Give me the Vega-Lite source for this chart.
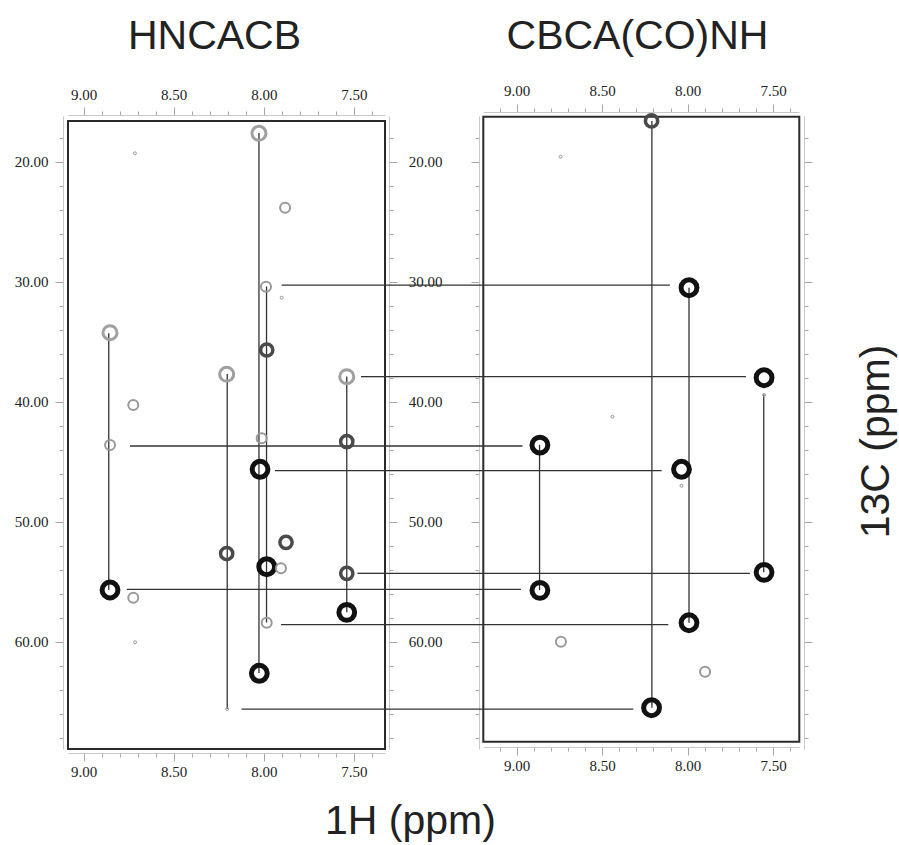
{
  "$schema": "https://vega.github.io/schema/vega-lite/v6.json",
  "width": 732,
  "height": 633,
  "autosize": {"type": "none"},
  "padding": {"left": 68, "top": 116, "right": 99, "bottom": 96},
  "background": "white",
  "config": {
    "view": {"stroke": null},
    "axis": {
      "grid": false,
      "labelFont": "Liberation Serif",
      "labelFontSize": 15,
      "labelColor": "#222222",
      "labelOverlap": false,
      "labelFlush": false,
      "domainColor": "#c8c8c8",
      "domainWidth": 1,
      "tickColor": "#a8a8a8",
      "tickWidth": 1,
      "titleFont": "Liberation Sans",
      "titleFontSize": 41,
      "titleFontWeight": "normal",
      "titleColor": "#222222"
    }
  },
  "datasets": {
    "windows": [
      {"panel": "HNCACB", "h_max": 9.086, "h_min": 7.328, "c_min": 16.61, "c_max": 68.94},
      {"panel": "CBCA(CO)NH", "h_max": 9.195, "h_min": 7.347, "c_min": 16.25, "c_max": 68.33}
    ],
    "peaks": [
      {"panel": "HNCACB", "h": 8.027, "c": 17.63, "intensity": "light"},
      {"panel": "HNCACB", "h": 8.715, "c": 19.30, "intensity": "trace"},
      {"panel": "HNCACB", "h": 7.882, "c": 23.83, "intensity": "weak"},
      {"panel": "HNCACB", "h": 7.988, "c": 30.42, "intensity": "weak"},
      {"panel": "HNCACB", "h": 7.901, "c": 31.33, "intensity": "trace"},
      {"panel": "HNCACB", "h": 8.853, "c": 34.25, "intensity": "light"},
      {"panel": "HNCACB", "h": 7.984, "c": 35.69, "intensity": "medium"},
      {"panel": "HNCACB", "h": 8.206, "c": 37.72, "intensity": "light"},
      {"panel": "HNCACB", "h": 7.540, "c": 37.91, "intensity": "light"},
      {"panel": "HNCACB", "h": 8.724, "c": 40.28, "intensity": "weak"},
      {"panel": "HNCACB", "h": 8.012, "c": 43.05, "intensity": "weak"},
      {"panel": "HNCACB", "h": 8.853, "c": 43.61, "intensity": "weak"},
      {"panel": "HNCACB", "h": 7.540, "c": 43.33, "intensity": "medium"},
      {"panel": "HNCACB", "h": 8.021, "c": 45.63, "intensity": "strong"},
      {"panel": "HNCACB", "h": 7.877, "c": 51.72, "intensity": "medium"},
      {"panel": "HNCACB", "h": 8.206, "c": 52.65, "intensity": "medium"},
      {"panel": "HNCACB", "h": 7.984, "c": 53.75, "intensity": "strong"},
      {"panel": "HNCACB", "h": 7.905, "c": 53.88, "intensity": "weak"},
      {"panel": "HNCACB", "h": 7.540, "c": 54.30, "intensity": "medium"},
      {"panel": "HNCACB", "h": 8.853, "c": 55.69, "intensity": "strong"},
      {"panel": "HNCACB", "h": 8.724, "c": 56.33, "intensity": "weak"},
      {"panel": "HNCACB", "h": 7.540, "c": 57.55, "intensity": "strong"},
      {"panel": "HNCACB", "h": 7.984, "c": 58.42, "intensity": "weak"},
      {"panel": "HNCACB", "h": 8.714, "c": 60.05, "intensity": "trace"},
      {"panel": "HNCACB", "h": 8.025, "c": 62.63, "intensity": "strong"},
      {"panel": "HNCACB", "h": 8.203, "c": 65.61, "intensity": "trace"},
      {"panel": "CBCA(CO)NH", "h": 8.211, "c": 16.60, "intensity": "medium"},
      {"panel": "CBCA(CO)NH", "h": 8.743, "c": 19.58, "intensity": "trace"},
      {"panel": "CBCA(CO)NH", "h": 7.992, "c": 30.50, "intensity": "strong"},
      {"panel": "CBCA(CO)NH", "h": 7.553, "c": 38.00, "intensity": "strong"},
      {"panel": "CBCA(CO)NH", "h": 7.553, "c": 39.44, "intensity": "trace"},
      {"panel": "CBCA(CO)NH", "h": 8.440, "c": 41.25, "intensity": "trace"},
      {"panel": "CBCA(CO)NH", "h": 8.864, "c": 43.61, "intensity": "strong"},
      {"panel": "CBCA(CO)NH", "h": 8.036, "c": 45.63, "intensity": "strong"},
      {"panel": "CBCA(CO)NH", "h": 8.036, "c": 47.00, "intensity": "trace"},
      {"panel": "CBCA(CO)NH", "h": 8.864, "c": 55.72, "intensity": "strong"},
      {"panel": "CBCA(CO)NH", "h": 7.553, "c": 54.22, "intensity": "strong"},
      {"panel": "CBCA(CO)NH", "h": 7.992, "c": 58.42, "intensity": "strong"},
      {"panel": "CBCA(CO)NH", "h": 8.741, "c": 60.00, "intensity": "weak"},
      {"panel": "CBCA(CO)NH", "h": 7.898, "c": 62.50, "intensity": "weak"},
      {"panel": "CBCA(CO)NH", "h": 8.211, "c": 65.50, "intensity": "strong"}
    ],
    "vlines": [
      {"panel": "HNCACB", "h": 8.860, "c1": 34.3, "c2": 55.7},
      {"panel": "HNCACB", "h": 8.027, "c1": 17.6, "c2": 62.6},
      {"panel": "HNCACB", "h": 7.985, "c1": 30.4, "c2": 58.4},
      {"panel": "HNCACB", "h": 8.203, "c1": 37.7, "c2": 65.6},
      {"panel": "HNCACB", "h": 7.540, "c1": 37.9, "c2": 57.55},
      {"panel": "CBCA(CO)NH", "h": 8.209, "c1": 16.6, "c2": 65.5},
      {"panel": "CBCA(CO)NH", "h": 7.992, "c1": 30.5, "c2": 58.42},
      {"panel": "CBCA(CO)NH", "h": 7.555, "c1": 39.4, "c2": 54.22},
      {"panel": "CBCA(CO)NH", "h": 8.866, "c1": 43.6, "c2": 55.7}
    ],
    "connectors": [
      {"c": 30.28, "hL": 7.901, "hR": 8.104},
      {"c": 37.91, "hL": 7.461, "hR": 7.659},
      {"c": 43.69, "hL": 8.742, "hR": 8.966},
      {"c": 45.75, "hL": 7.938, "hR": 8.152},
      {"c": 55.64, "hL": 8.760, "hR": 8.975},
      {"c": 54.30, "hL": 7.481, "hR": 7.636},
      {"c": 58.58, "hL": 7.905, "hR": 8.113},
      {"c": 65.61, "hL": 8.123, "hR": 8.318}
    ]
  },
  "layer": [
    {
      "layer": [
        {
          "data": {"name": "windows"},
          "transform": [{"filter": "datum.panel == 'HNCACB'"}],
          "mark": {"type": "rect", "filled": false, "color": "#2a2a2a", "strokeWidth": 2},
          "encoding": {
            "x": {
              "field": "h_max", "type": "quantitative",
              "scale": {"domain": [9.086, 7.328], "range": [0, 317], "zero": false, "nice": false},
              "axis": {
                "orient": "bottom", "offset": 4,
                "values": [9.0, 8.9, 8.8, 8.7, 8.6, 8.5, 8.4, 8.3, 8.2, 8.1, 8.0, 7.9, 7.8, 7.7, 7.6, 7.5, 7.4],
                "labelExpr": "abs(datum.value*2 - round(datum.value*2)) < 0.001 ? format(datum.value, '.2f') : ''",
                "tickSize": {"condition": {"test": "abs(datum.value*2 - round(datum.value*2)) < 0.001", "value": 8}, "value": 4},
                "labelPadding": 3,
                "title": "1H (ppm)", "titleX": 342, "titleY": 80, "titleAlign": "center", "titleBaseline": "alphabetic"
              }
            },
            "x2": {"field": "h_min"},
            "y": {
              "field": "c_min", "type": "quantitative",
              "scale": {"domain": [16.19, 68.94], "reverse": true, "zero": false, "nice": false},
              "axis": {
                "orient": "left", "offset": 5,
                "values": [18, 20, 22, 24, 26, 28, 30, 32, 34, 36, 38, 40, 42, 44, 46, 48, 50, 52, 54, 56, 58, 60, 62, 64, 66, 68],
                "labelExpr": "datum.value % 10 == 0 ? format(datum.value, '.2f') : ''",
                "tickSize": {"condition": {"test": "datum.value % 10 == 0", "value": 8}, "value": 4},
                "labelPadding": 7,
                "title": null
              }
            },
            "y2": {"field": "c_max"}
          }
        },
        {
          "data": {"name": "windows"},
          "transform": [{"filter": "datum.panel == 'HNCACB'"}],
          "mark": {"type": "rect", "opacity": 0},
          "encoding": {
            "x": {
              "field": "h_max", "type": "quantitative",
              "axis": {
                "orient": "top", "offset": 1,
                "values": [9.0, 8.9, 8.8, 8.7, 8.6, 8.5, 8.4, 8.3, 8.2, 8.1, 8.0, 7.9, 7.8, 7.7, 7.6, 7.5, 7.4],
                "labelExpr": "abs(datum.value*2 - round(datum.value*2)) < 0.001 ? format(datum.value, '.2f') : ''",
                "tickSize": {"condition": {"test": "abs(datum.value*2 - round(datum.value*2)) < 0.001", "value": 8}, "value": 4},
                "labelPadding": 5,
                "title": "HNCACB", "titleX": 146, "titleY": -67, "titleAlign": "center", "titleBaseline": "alphabetic"
              }
            },
            "x2": {"field": "h_min"},
            "y": {
              "field": "c_min", "type": "quantitative",
              "axis": {
                "orient": "right", "offset": -411,
                "values": [18, 20, 22, 24, 26, 28, 30, 32, 34, 36, 38, 40, 42, 44, 46, 48, 50, 52, 54, 56, 58, 60, 62, 64, 66, 68],
                "labels": false,
                "tickSize": {"condition": {"test": "datum.value % 10 == 0", "value": 8}, "value": 4},
                "title": null
              }
            },
            "y2": {"field": "c_max"}
          }
        },
        {
          "data": {"name": "vlines"},
          "transform": [{"filter": "datum.panel == 'HNCACB'"}],
          "mark": {"type": "rule", "color": "#333333", "strokeWidth": 1.3},
          "encoding": {
            "x": {"field": "h", "type": "quantitative", "axis": null},
            "y": {"field": "c1", "type": "quantitative", "axis": null},
            "y2": {"field": "c2"}
          }
        },
        {
          "data": {"name": "connectors"},
          "mark": {"type": "rule", "color": "#333333", "strokeWidth": 1.3},
          "encoding": {
            "x": {"field": "hL", "type": "quantitative", "axis": null},
            "x2": {"datum": 7.328},
            "y": {"field": "c", "type": "quantitative", "axis": null}
          }
        },
        {
          "data": {"name": "peaks"},
          "transform": [{"filter": "datum.panel == 'HNCACB'"}],
          "mark": {"type": "point", "shape": "circle", "filled": false, "opacity": 1},
          "encoding": {
            "x": {"field": "h", "type": "quantitative", "axis": null},
            "y": {"field": "c", "type": "quantitative", "axis": null},
            "color": {"field": "intensity", "type": "nominal", "legend": null,
              "scale": {"domain": ["strong", "medium", "light", "weak", "trace"], "range": ["#111111", "#4a4a4a", "#a0a0a0", "#999999", "#9a9a9a"]}},
            "size": {"field": "intensity", "type": "ordinal", "legend": null,
              "scale": {"type": "ordinal", "domain": ["strong", "medium", "light", "weak", "trace"], "range": [250, 150, 196, 100, 9]}},
            "strokeWidth": {"field": "intensity", "type": "ordinal", "legend": null,
              "scale": {"type": "ordinal", "domain": ["strong", "medium", "light", "weak", "trace"], "range": [5, 3.5, 3, 2, 1]}}
          }
        }
      ],
      "resolve": {"axis": {"x": "independent", "y": "independent"}}
    },
    {
      "layer": [
        {
          "data": {"name": "windows"},
          "transform": [{"filter": "datum.panel == 'CBCA(CO)NH'"}],
          "mark": {"type": "rect", "filled": false, "color": "#2a2a2a", "strokeWidth": 2},
          "encoding": {
            "x": {
              "field": "h_max", "type": "quantitative",
              "scale": {"domain": [9.195, 7.347], "range": [415.3, 731.3], "zero": false, "nice": false},
              "axis": {
                "orient": "bottom", "offset": -2,
                "values": [9.1, 9.0, 8.9, 8.8, 8.7, 8.6, 8.5, 8.4, 8.3, 8.2, 8.1, 8.0, 7.9, 7.8, 7.7, 7.6, 7.5, 7.4],
                "labelExpr": "abs(datum.value*2 - round(datum.value*2)) < 0.001 ? format(datum.value, '.2f') : ''",
                "tickSize": {"condition": {"test": "abs(datum.value*2 - round(datum.value*2)) < 0.001", "value": 8}, "value": 4},
                "labelPadding": 3,
                "title": null
              }
            },
            "x2": {"field": "h_min"},
            "y": {
              "field": "c_min", "type": "quantitative",
              "scale": {"domain": [16.19, 68.94], "reverse": true, "zero": false, "nice": false},
              "axis": {
                "orient": "left", "offset": -411,
                "values": [18, 20, 22, 24, 26, 28, 30, 32, 34, 36, 38, 40, 42, 44, 46, 48, 50, 52, 54, 56, 58, 60, 62, 64, 66, 68],
                "labelExpr": "datum.value % 10 == 0 ? format(datum.value, '.2f') : ''",
                "tickSize": {"condition": {"test": "datum.value % 10 == 0", "value": 8}, "value": 4},
                "labelPadding": 29,
                "title": null
              }
            },
            "y2": {"field": "c_max"}
          }
        },
        {
          "data": {"name": "windows"},
          "transform": [{"filter": "datum.panel == 'CBCA(CO)NH'"}],
          "mark": {"type": "rect", "opacity": 0},
          "encoding": {
            "x": {
              "field": "h_max", "type": "quantitative",
              "axis": {
                "orient": "top", "offset": 4,
                "values": [9.1, 9.0, 8.9, 8.8, 8.7, 8.6, 8.5, 8.4, 8.3, 8.2, 8.1, 8.0, 7.9, 7.8, 7.7, 7.6, 7.5, 7.4],
                "labelExpr": "abs(datum.value*2 - round(datum.value*2)) < 0.001 ? format(datum.value, '.2f') : ''",
                "tickSize": {"condition": {"test": "abs(datum.value*2 - round(datum.value*2)) < 0.001", "value": 8}, "value": 4},
                "labelPadding": 6,
                "title": "CBCA(CO)NH", "titleX": 569, "titleY": -64, "titleAlign": "center", "titleBaseline": "alphabetic"
              }
            },
            "x2": {"field": "h_min"},
            "y": {
              "field": "c_min", "type": "quantitative",
              "axis": {
                "orient": "right", "offset": 4,
                "values": [18, 20, 22, 24, 26, 28, 30, 32, 34, 36, 38, 40, 42, 44, 46, 48, 50, 52, 54, 56, 58, 60, 62, 64, 66, 68],
                "labels": false,
                "tickSize": {"condition": {"test": "datum.value % 10 == 0", "value": 8}, "value": 4},
                "title": "13C (ppm)", "titleAngle": 270, "titleX": 84, "titleY": 325, "titleAlign": "center", "titleBaseline": "alphabetic"
              }
            },
            "y2": {"field": "c_max"}
          }
        },
        {
          "data": {"name": "vlines"},
          "transform": [{"filter": "datum.panel == 'CBCA(CO)NH'"}],
          "mark": {"type": "rule", "color": "#333333", "strokeWidth": 1.3},
          "encoding": {
            "x": {"field": "h", "type": "quantitative", "axis": null},
            "y": {"field": "c1", "type": "quantitative", "axis": null},
            "y2": {"field": "c2"}
          }
        },
        {
          "data": {"name": "connectors"},
          "mark": {"type": "rule", "color": "#333333", "strokeWidth": 1.3},
          "encoding": {
            "x": {"field": "hR", "type": "quantitative", "axis": null},
            "x2": {"datum": 9.77},
            "y": {"field": "c", "type": "quantitative", "axis": null}
          }
        },
        {
          "data": {"name": "peaks"},
          "transform": [{"filter": "datum.panel == 'CBCA(CO)NH'"}],
          "mark": {"type": "point", "shape": "circle", "filled": false, "opacity": 1},
          "encoding": {
            "x": {"field": "h", "type": "quantitative", "axis": null},
            "y": {"field": "c", "type": "quantitative", "axis": null},
            "color": {"field": "intensity", "type": "nominal", "legend": null,
              "scale": {"domain": ["strong", "medium", "light", "weak", "trace"], "range": ["#111111", "#4a4a4a", "#a0a0a0", "#999999", "#9a9a9a"]}},
            "size": {"field": "intensity", "type": "ordinal", "legend": null,
              "scale": {"type": "ordinal", "domain": ["strong", "medium", "light", "weak", "trace"], "range": [250, 150, 196, 100, 9]}},
            "strokeWidth": {"field": "intensity", "type": "ordinal", "legend": null,
              "scale": {"type": "ordinal", "domain": ["strong", "medium", "light", "weak", "trace"], "range": [5, 3.5, 3, 2, 1]}}
          }
        }
      ],
      "resolve": {"axis": {"x": "independent", "y": "independent"}}
    }
  ],
  "resolve": {"scale": {"x": "independent"}, "axis": {"x": "independent", "y": "independent"}}
}
